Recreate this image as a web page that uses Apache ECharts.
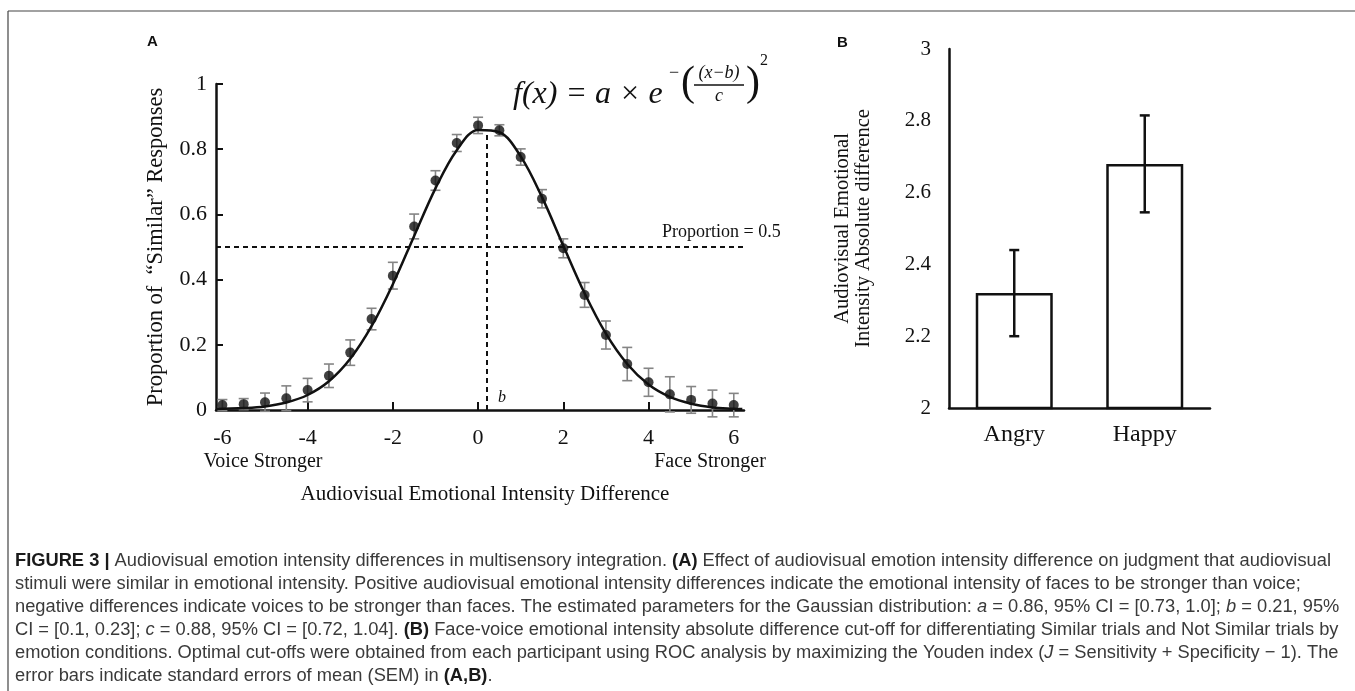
<!DOCTYPE html>
<html>
<head>
<meta charset="utf-8">
<script src="https://cdn.jsdelivr.net/npm/echarts@6/dist/echarts.min.js"></script>
<style>
html,body{margin:0;padding:0;background:#fff;}
#c{width:1355px;height:691px;}
</style>
</head>
<body>
<div id="c"></div>
<script>
// ---------- Panel A data ----------
const pointX = [-6,-5.5,-5,-4.5,-4,-3.5,-3,-2.5,-2,-1.5,-1,-0.5,0,0.5,1,1.5,2,2.5,3,3.5,4,4.5,5,5.5,6];
const pointY = [0.015,0.018,0.024,0.036,0.061,0.105,0.176,0.279,0.412,0.563,0.704,0.819,0.873,0.858,0.776,0.648,0.496,0.353,0.230,0.141,0.085,0.048,0.031,0.020,0.015];
const pointErr = [0.017,0.017,0.028,0.038,0.036,0.036,0.039,0.033,0.041,0.038,0.030,0.026,0.025,0.017,0.025,0.028,0.029,0.038,0.043,0.051,0.043,0.054,0.041,0.041,0.036];
const curveX = [-6.15,-6,-5.5,-5,-4.5,-4,-3.5,-3,-2.5,-2,-1.5,-1,-0.5,0,0.5,1,1.5,2,2.5,3,3.5,4,4.5,5,5.5,6,6.2];
const curveY = [0.003,0.004,0.006,0.011,0.023,0.046,0.088,0.157,0.257,0.386,0.534,0.680,0.797,0.859,0.852,0.778,0.653,0.504,0.358,0.234,0.141,0.078,0.040,0.019,0.008,0.004,0.003];
const xTickLabels = [-6,-4,-2,0,2,4,6];
const xTickMarks = [-4,-2,0,2,4];
const proportionLine = 0.5;
const peakB = 0.21;
const peakA = 0.86;

// ---------- Panel B data ----------
const barCats = ['Angry','Happy'];
const barVals = [2.32, 2.68];
const barErr = [0.12, 0.135];

const SERIF = '"Liberation Serif","Times New Roman",serif';
const chart = echarts.init(document.getElementById('c'), null, {renderer:'canvas'});

function errorBarRender(color, lw, hw){
  return function(params, api){
    const x = api.value(0), y = api.value(1), e = api.value(2);
    const t = api.coord([x, y + e]);
    const b = api.coord([x, y - e]);
    const st = {stroke: color, lineWidth: lw};
    return {type:'group', children:[
      {type:'line', shape:{x1:t[0], y1:t[1], x2:b[0], y2:b[1]}, style:st},
      {type:'line', shape:{x1:t[0]-hw, y1:t[1], x2:t[0]+hw, y2:t[1]}, style:st},
      {type:'line', shape:{x1:b[0]-hw, y1:b[1], x2:b[0]+hw, y2:b[1]}, style:st}
    ]};
  };
}

const capLines = [
  '{b|FIGURE 3 |} Audiovisual emotion intensity differences in multisensory integration. {b|(A)} Effect of audiovisual emotion intensity difference on judgment that audiovisual',
  'stimuli were similar in emotional intensity. Positive audiovisual emotional intensity differences indicate the emotional intensity of faces to be stronger than voice;',
  'negative differences indicate voices to be stronger than faces. The estimated parameters for the Gaussian distribution: {i|a} = 0.86, 95% CI = [0.73, 1.0]; {i|b} = 0.21, 95%',
  'CI = [0.1, 0.23]; {i|c} = 0.88, 95% CI = [0.72, 1.04]. {b|(B)} Face-voice emotional intensity absolute difference cut-off for differentiating Similar trials and Not Similar trials by',
  'emotion conditions. Optimal cut-offs were obtained from each participant using ROC analysis by maximizing the Youden index ({i|J} = Sensitivity + Specificity \u2212 1). The',
  'error bars indicate standard errors of mean (SEM) in {b|(A,B)}.'
];
const CAPFONT = '"Liberation Sans",Arial,sans-serif';
const CAPSIZE = 18.3;
const capGraphics = capLines.map((t, i) => ({
  type:'text', left:15, top: 552 + i*23,
  style:{text:t, font:CAPSIZE + 'px ' + CAPFONT, fill:'#3a3a3a',
    rich:{
      b:{fontWeight:'bold', fontFamily:CAPFONT, fontSize:CAPSIZE, fill:'#1a1a1a'},
      i:{fontStyle:'italic', fontFamily:CAPFONT, fontSize:CAPSIZE, fill:'#3a3a3a'}
    }}
}));

const option = {
  animation:false,
  backgroundColor:'#fff',
  grid:[
    {left:216, top:84, width:528, height:326},
    {left:949, top:49, width:261, height:359}
  ],
  xAxis:[
    {gridIndex:0, type:'value', min:-6.15, max:6.24,
      axisLine:{show:true, onZero:false, lineStyle:{color:'#111', width:2.5}},
      axisTick:{show:true, inside:true, length:8, customValues:xTickMarks, lineStyle:{color:'#111', width:2}},
      axisLabel:{show:true, customValues:xTickLabels, margin:17, fontFamily:SERIF, fontSize:22, color:'#111'},
      splitLine:{show:false}
    },
    {gridIndex:1, type:'category', data:barCats,
      axisLine:{show:true, onZero:false, lineStyle:{color:'#111', width:2.5}},
      axisTick:{show:false},
      axisLabel:{margin:15, fontFamily:SERIF, fontSize:24, color:'#111'},
      splitLine:{show:false}
    }
  ],
  yAxis:[
    {gridIndex:0, type:'value', min:0, max:1, interval:0.2,
      axisLine:{show:true, onZero:false, lineStyle:{color:'#111', width:2.5}},
      axisTick:{show:true, inside:true, length:7, lineStyle:{color:'#111', width:2}},
      axisLabel:{margin:9, fontFamily:SERIF, fontSize:22, color:'#111',
        formatter:v => (v===0||v===1) ? String(v) : v.toFixed(1)},
      splitLine:{show:false},
      name:'Proportion of  \u201cSimilar\u201d Responses', nameLocation:'middle', nameRotate:90, nameGap:48,
      nameTextStyle:{fontFamily:SERIF, fontSize:22.5, color:'#111'}
    },
    {gridIndex:1, type:'value', min:2, max:3, interval:0.2,
      axisLine:{show:true, onZero:false, lineStyle:{color:'#111', width:2.5}},
      axisTick:{show:false},
      axisLabel:{margin:18, fontFamily:SERIF, fontSize:21, color:'#111',
        formatter:v => (Math.abs(v-2)<1e-9||Math.abs(v-3)<1e-9) ? String(Math.round(v)) : v.toFixed(1)},
      splitLine:{show:false},
      name:'Audiovisual Emotional\nIntensity Absolute difference', nameLocation:'middle', nameRotate:90, nameGap:75,
      nameTextStyle:{fontFamily:SERIF, fontSize:20.5, color:'#111', lineHeight:21}
    }
  ],
  series:[
    {type:'custom', xAxisIndex:0, yAxisIndex:0, z:2,
      renderItem: errorBarRender('#858585', 1.6, 5),
      data: pointX.map((x,i)=>[x, pointY[i], pointErr[i]]), clip:false},
    {type:'line', xAxisIndex:0, yAxisIndex:0, z:3, smooth:0.35, showSymbol:false, symbol:'none',
      lineStyle:{color:'#111', width:2.5},
      data: curveX.map((x,i)=>[x, curveY[i]]),
      markLine:{silent:true, symbol:['none','none'], label:{show:false},
        lineStyle:{color:'#111', width:2, type:[5,4]},
        data:[
          [{coord:[-6.15, proportionLine]}, {coord:[6.22, proportionLine]}],
          [{coord:[peakB, 0]}, {coord:[peakB, peakA]}]
        ]}
    },
    {type:'scatter', xAxisIndex:0, yAxisIndex:0, z:4, symbol:'circle', symbolSize:10,
      itemStyle:{color:'#111'},
      data: pointX.map((x,i)=>[x, pointY[i]])},
    {type:'bar', xAxisIndex:1, yAxisIndex:1, barWidth:'59%', z:2,
      itemStyle:{color:'#fff', borderColor:'#111', borderWidth:2.5},
      data: barVals},
    {type:'custom', xAxisIndex:1, yAxisIndex:1, z:5,
      renderItem: errorBarRender('#111', 2.5, 5),
      data: barVals.map((v,i)=>[i, v, barErr[i]])}
  ],
  graphic:[
    // frame
    {type:'line', shape:{x1:8, y1:11, x2:1355, y2:11}, style:{stroke:'#444', lineWidth:1.2}},
    {type:'line', shape:{x1:8, y1:11, x2:8, y2:691}, style:{stroke:'#444', lineWidth:1.2}},
    // panel labels
    {type:'text', left:147, top:34, style:{text:'A', font:'bold 15px "Liberation Sans",Arial,sans-serif', fill:'#111'}},
    {type:'text', left:837, top:35, style:{text:'B', font:'bold 15px "Liberation Sans",Arial,sans-serif', fill:'#111'}},
    // annotations panel A
    {type:'text', x:662, y:232, style:{text:'Proportion = 0.5', font:'18px ' + SERIF, fill:'#111', align:'left', verticalAlign:'middle'}},
    {type:'text', x:498, y:398, style:{text:'b', font:'italic 16px ' + SERIF, fill:'#111', align:'left', verticalAlign:'middle'}},
    {type:'text', x:263, y:462, style:{text:'Voice Stronger', font:'20px ' + SERIF, fill:'#111', align:'center', verticalAlign:'middle'}},
    {type:'text', x:710, y:462, style:{text:'Face Stronger', font:'20px ' + SERIF, fill:'#111', align:'center', verticalAlign:'middle'}},
    {type:'text', x:485, y:494, style:{text:'Audiovisual Emotional Intensity Difference', font:'21px ' + SERIF, fill:'#111', align:'center', verticalAlign:'middle'}},
    // formula
    {type:'text', x:513, y:95, style:{text:'f(x) = a \u00d7 e', font:'italic 32px ' + SERIF, fill:'#111', align:'left', verticalAlign:'middle'}},
    {type:'text', x:669, y:73, style:{text:'\u2212', font:'18px ' + SERIF, fill:'#111', align:'left', verticalAlign:'middle'}},
    {type:'text', x:681, y:84, style:{text:'(', font:'42px ' + SERIF, fill:'#111', align:'left', verticalAlign:'middle'}},
    {type:'text', x:719, y:73, style:{text:'(x\u2212b)', font:'italic 18px ' + SERIF, fill:'#111', align:'center', verticalAlign:'middle'}},
    {type:'line', shape:{x1:694, y1:85, x2:744, y2:85}, style:{stroke:'#111', lineWidth:1.3}},
    {type:'text', x:719, y:96, style:{text:'c', font:'italic 18px ' + SERIF, fill:'#111', align:'center', verticalAlign:'middle'}},
    {type:'text', x:746, y:84, style:{text:')', font:'42px ' + SERIF, fill:'#111', align:'left', verticalAlign:'middle'}},
    {type:'text', x:760, y:61, style:{text:'2', font:'16px ' + SERIF, fill:'#111', align:'left', verticalAlign:'middle'}}
  ].concat(capGraphics)
};
chart.setOption(option);
</script>
</body>
</html>
